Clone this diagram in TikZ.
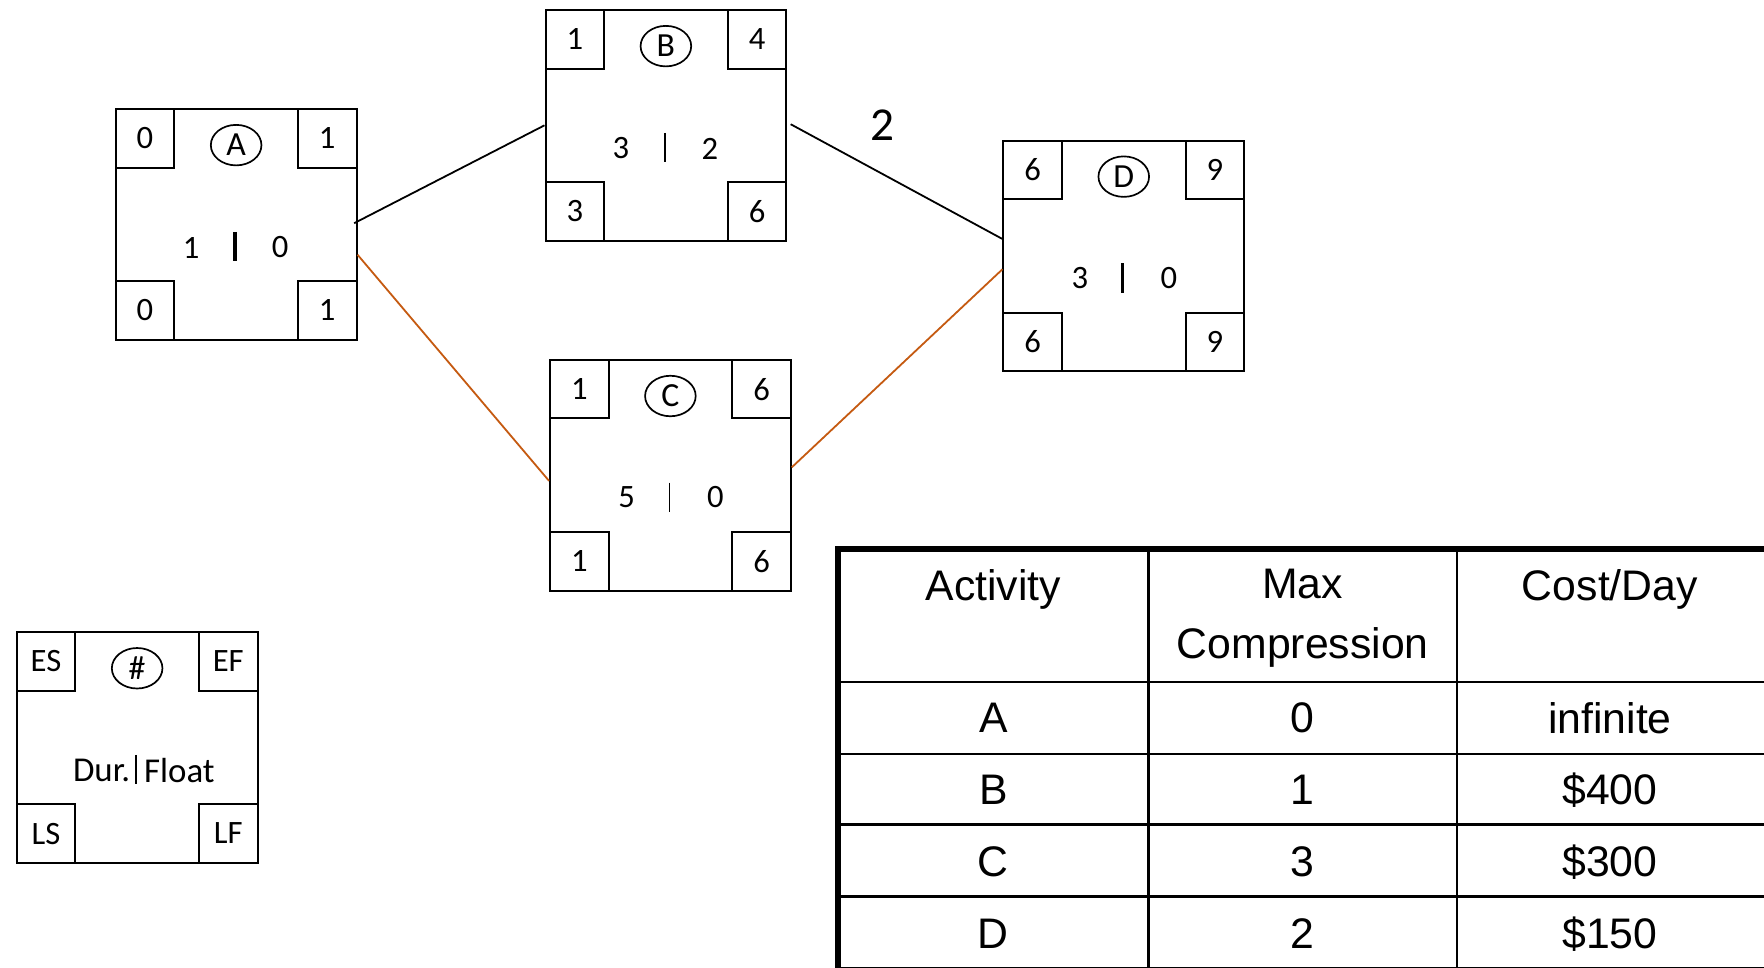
\documentclass[tikz,border=0pt]{standalone}
\usepackage{fontspec}
\newfontfamily\boxfont{Carlito}
\newfontfamily\tabfont{Liberation Sans}
\definecolor{orng}{RGB}{197,90,17}
\tikzset{
  actbox/.style={draw, line width=1.8pt, minimum width=214pt, minimum height=205pt, inner sep=0pt, anchor=north west},
  cornerbox/.style={draw, line width=1.8pt, minimum size=52pt, inner sep=0pt, font=\boxfont\fontsize{29}{33}\selectfont},
  lettercirc/.style={draw, ellipse, line width=1.5pt, minimum width=45pt, minimum height=36pt, inner sep=0pt, font=\boxfont\fontsize{30}{34}\selectfont},
  midtext/.style={inner sep=0pt, font=\boxfont\fontsize{29}{33}\selectfont},
  legtext/.style={inner sep=0pt, font=\boxfont\fontsize{31}{35}\selectfont},
  midbar/.style={line width=1.5pt},
  thickbar/.style={line width=3pt},
  link/.style={line width=1.6pt},
  critlink/.style={line width=1.6pt, draw=orng},
  tabtext/.style={inner sep=0pt, font=\tabfont\fontsize{38}{53}\selectfont, align=center},
  tabthin/.style={line width=2.2pt},
  tabthick/.style={line width=5pt}
}
\usetikzlibrary{shapes.geometric}
% #1 name, #2 top-left, #3 ES, #4 EF, #5 LS, #6 LF, #7 letter, #8 bar style
\newcommand\actnode[8]{%
  \node[actbox] (#1) at #2 {};
  \node[cornerbox, anchor=north west] (#1es) at (#1.north west) {#3};
  \node[cornerbox, anchor=north east] (#1ef) at (#1.north east) {#4};
  \node[cornerbox, anchor=south west] (#1ls) at (#1.south west) {#5};
  \node[cornerbox, anchor=south east] (#1lf) at (#1.south east) {#6};
  \node[lettercirc] (#1id) at ([shift={(0,33)}]#1.north) {#7};
  \coordinate (#1bt) at ([shift={(107,110)}]#1.north west);
  \coordinate (#1bb) at ([shift={(107,136)}]#1.north west);
  \draw[#8] (#1bt) -- (#1bb);
}
\begin{document}
\begin{tikzpicture}[x=1pt,y=-1pt]
\useasboundingbox (0,0) rectangle (1568,860);
\fill[white] (0,0) rectangle (1568,860);

% activity boxes
\actnode{A}{(102,96)}{0}{1}{0}{1}{A}{thickbar}
\node[midtext] (Adur) at ([shift={(68,124)}]A.north west) {1};
\node[midtext] (Aflt) at ([shift={(147,124)}]A.north west) {0};

\actnode{B}{(484,8)}{1}{4}{3}{6}{B}{midbar}
\node[midtext] (Bdur) at ([shift={(68,124)}]B.north west) {3};
\node[midtext] (Bflt) at ([shift={(147,124)}]B.north west) {2};

\actnode{C}{(488,319)}{1}{6}{1}{6}{C}{midbar}
\node[midtext] (Cdur) at ([shift={(69,123)}]C.north west) {5};
\node[midtext] (Cflt) at ([shift={(148,123)}]C.north west) {0};

\actnode{D}{(891,124)}{6}{9}{6}{9}{D}{thickbar}
\node[midtext] (Ddur) at ([shift={(69,123)}]D.north west) {3};
\node[midtext] (Dflt) at ([shift={(148,123)}]D.north west) {0};

% legend
\actnode{L}{(14,561)}{ES}{EF}{LS}{LF}{\#}{midbar}
\node[legtext, anchor=east] (Ldur) at ([shift={(102,124)}]L.north west) {Dur.};
\node[legtext, anchor=west] (Lflt) at ([shift={(114,124)}]L.north west) {Float};

% connectors
\coordinate (ABs) at ([shift={(-3,-1)}]A.east);
\draw[link] (ABs) -- (B.west);
\coordinate (BDs) at ([shift={(3,-1)}]B.east);
\draw[link] (BDs) -- ([shift={(0,-15)}]D.west);
\draw[critlink] ([shift={(0,27)}]A.east) -- ([shift={(0,5)}]C.west);
\draw[critlink] ([shift={(0,-7)}]C.east) -- ([shift={(0,12)}]D.west);
\node[inner sep=0pt, font=\boxfont\fontsize{42}{46}\selectfont] (lab2) at (784.5,111) {2};

% table
\coordinate (T0) at (745,488);
\draw[tabthin] (1021,488) -- (1021,862);
\draw[tabthin] (1295,488) -- (1295,862);
\draw[tabthin] (745,606) -- (1572,606);
\draw[tabthin] (745,670) -- (1572,670);
\draw[tabthin] (745,733) -- (1572,733);
\draw[tabthin] (745,797) -- (1572,797);
\draw[tabthick] (T0) rectangle (1575,862);

\node[tabtext, anchor=north] (h1) at (883,506) {Activity};
\node[tabtext, anchor=north] (h2) at (1158,506) {Max\\Compression};
\node[tabtext, anchor=north] (h3) at (1431,506) {Cost/Day};

\node[tabtext] (r1a) at (883,638) {A};
\node[tabtext] (r1b) at (1158,638) {0};
\node[tabtext] (r1c) at (1431,638) {infinite};
\node[tabtext] (r2a) at (883,702) {B};
\node[tabtext] (r2b) at (1158,702) {1};
\node[tabtext] (r2c) at (1431,702) {\$400};
\node[tabtext] (r3a) at (883,766) {C};
\node[tabtext] (r3b) at (1158,766) {3};
\node[tabtext] (r3c) at (1431,766) {\$300};
\node[tabtext] (r4a) at (883,830) {D};
\node[tabtext] (r4b) at (1158,830) {2};
\node[tabtext] (r4c) at (1431,830) {\$150};
\end{tikzpicture}
\end{document}
